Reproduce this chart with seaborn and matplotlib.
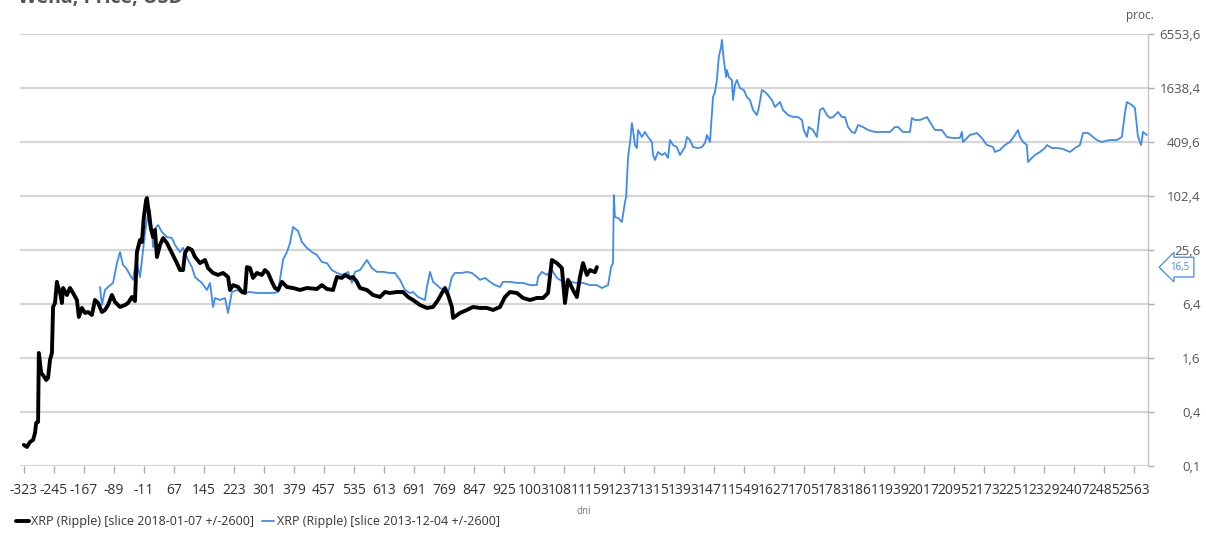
import numpy as np
import pandas as pd
import seaborn as sns
import matplotlib.pyplot as plt
from matplotlib.ticker import FixedLocator, FuncFormatter, NullLocator

# XRP price relative to slice date (percent), days from slice
black_days = [-323, -315, -307, -299, -294, -291, -286, -284, -278, -273,
              -265, -260, -255, -250, -247, -242, -237, -234, -229, -224,
              -221, -211, -203, -195, -185, -180, -172, -164, -156, -146,
              -138, -130, -120, -112, -104, -94, -86, -73, -60, -52,
              -42, -34, -29, -21, -16, -11, -5, -3, 2, 7,
              13, 18, 23, 31, 39, 49, 62, 75, 83, 91,
              96, 104, 114, 122, 135, 148, 156, 169, 182, 195,
              208, 213, 221, 234, 244, 252, 257, 265, 273, 283,
              296, 304, 312, 322, 330, 338, 348, 361, 377, 395,
              413, 439, 452, 465, 481, 491, 504, 512, 525, 533,
              543, 551, 569, 585, 603, 616, 629, 647, 663, 676,
              689, 707, 725, 741, 754, 764, 772, 780, 790, 793,
              811, 829, 845, 863, 881, 897, 915, 928, 941, 959,
              975, 993, 1011, 1027, 1040, 1050, 1063, 1076, 1084, 1092,
              1105, 1115, 1123, 1131, 1141, 1149, 1162, 1167]
black_vals = [0.172, 0.163, 0.185, 0.195, 0.233, 0.302, 0.310, 1.82, 1.09, 1.03,
              0.91, 0.96, 1.52, 1.82, 5.93, 6.57, 11.3, 9.91, 8.71, 6.57,
              9.65, 8.06, 9.65, 8.49, 7.09, 4.59, 5.78, 5.08, 5.21, 4.83,
              7.09, 6.57, 5.21, 5.49, 6.24, 8.06, 6.74, 5.93, 6.24, 6.57,
              7.66, 6.91, 24.3, 33.1, 31.4, 59.7, 92.4, 97.3, 66.2, 45.0,
              35.7, 42.8, 21.4, 29.1, 34.8, 30.6, 23.7, 18.3, 15.3, 15.3,
              23.7, 27.0, 25.6, 21.4, 18.3, 19.8, 16.1, 14.2, 13.5, 14.2,
              12.8, 9.17, 10.4, 9.91, 8.71, 8.49, 16.5, 16.1, 12.5, 14.2,
              13.5, 15.3, 14.2, 11.3, 9.65, 9.17, 11.3, 9.91, 9.65, 9.17,
              9.65, 9.41, 10.4, 9.41, 9.17, 12.8, 12.5, 13.5, 12.5, 12.8,
              11.3, 9.65, 9.17, 8.06, 7.66, 8.71, 8.49, 8.71, 8.71, 7.66,
              7.09, 6.24, 5.78, 5.93, 7.09, 8.49, 9.65, 8.06, 5.93, 4.47,
              5.08, 5.49, 5.93, 5.78, 5.78, 5.49, 5.93, 7.66, 8.71, 8.49,
              7.47, 7.09, 7.47, 7.47, 8.49, 19.8, 18.3, 16.1, 6.57, 11.9,
              9.17, 7.66, 12.8, 18.3, 13.5, 15.3, 14.5, 16.5]

blue_days = [-125, -120, -112, -104, -91, -81, -73, -65, -57, -47,
             -39, -31, -21, -13, -8, 0, 5, 10, 13, 21,
             26, 36, 49, 62, 70, 83, 91, 104, 114, 122,
             130, 140, 153, 161, 169, 174, 187, 200, 208, 218,
             231, 247, 265, 283, 299, 325, 338, 351, 361, 369,
             377, 390, 400, 413, 426, 439, 452, 465, 478, 491,
             507, 520, 530, 538, 551, 569, 582, 595, 611, 629,
             642, 655, 668, 681, 689, 702, 720, 725, 733, 741,
             751, 759, 772, 780, 790, 798, 816, 829, 842, 855,
             863, 876, 889, 902, 915, 923, 941, 959, 975, 993,
             1011, 1014, 1024, 1037, 1050, 1063, 1079, 1097, 1115, 1131,
             1149, 1167, 1180, 1196, 1204, 1209, 1211, 1214, 1222, 1232,
             1240, 1243, 1248, 1253, 1258, 1261, 1266, 1271, 1274, 1284,
             1292, 1300, 1310, 1313, 1318, 1326, 1336, 1344, 1352, 1357,
             1365, 1375, 1383, 1396, 1401, 1409, 1417, 1430, 1440, 1448,
             1453, 1461, 1469, 1474, 1479, 1484, 1490, 1492, 1497, 1503,
             1505, 1510, 1518, 1521, 1526, 1531, 1539, 1549, 1557, 1565,
             1573, 1583, 1588, 1596, 1604, 1612, 1622, 1630, 1643, 1651,
             1664, 1677, 1690, 1700, 1705, 1713, 1718, 1729, 1739, 1747,
             1755, 1765, 1773, 1781, 1794, 1804, 1812, 1820, 1830, 1838,
             1846, 1859, 1872, 1890, 1911, 1929, 1942, 1950, 1963, 1981,
             1986, 1994, 2007, 2025, 2033, 2046, 2064, 2077, 2093, 2111,
             2116, 2119, 2137, 2155, 2168, 2181, 2197, 2202, 2215, 2228,
             2241, 2254, 2262, 2267, 2275, 2285, 2288, 2298, 2306, 2319,
             2332, 2337, 2350, 2366, 2379, 2397, 2410, 2423, 2431, 2444,
             2457, 2467, 2480, 2501, 2519, 2532, 2540, 2545, 2558, 2566,
             2574, 2582, 2587, 2597]
blue_vals = [9.91, 6.24, 9.17, 9.91, 11.0, 18.3, 24.3, 17.4, 16.1, 13.5,
             11.9, 19.8, 12.8, 25.6, 39.6, 66.2, 71.5, 42.8, 27.6, 46.2,
             48.6, 40.6, 35.7, 34.8, 29.1, 24.3, 27.0, 19.8, 16.5, 12.8,
             11.9, 11.0, 9.17, 11.0, 5.93, 7.47, 7.09, 7.47, 5.08, 8.71,
             9.17, 8.49, 8.71, 8.49, 8.49, 8.49, 8.71, 20.0, 24.3, 30.6,
             46.2, 41.7, 31.4, 27.0, 24.3, 22.5, 18.8, 18.3, 15.3, 14.2,
             13.5, 14.6, 11.0, 14.6, 15.3, 19.8, 16.1, 14.6, 14.6, 14.2,
             14.2, 11.9, 9.17, 8.49, 8.71, 7.66, 7.09, 9.91, 14.6, 11.3,
             10.4, 9.65, 9.17, 8.49, 12.8, 14.2, 14.2, 14.6, 14.2, 12.8,
             11.9, 12.5, 11.3, 10.4, 9.91, 11.3, 11.3, 11.0, 11.0, 10.4,
             10.4, 12.8, 14.6, 13.5, 15.3, 12.5, 11.3, 11.3, 11.0, 11.0,
             10.4, 10.4, 9.65, 10.4, 16.5, 18.3, 105, 59.7, 58.2, 52.5,
             87.8, 99.8, 279, 399, 667, 557, 379, 351, 557, 466,
             530, 466, 410, 293, 258, 317, 293, 309, 272, 431,
             379, 360, 293, 360, 466, 431, 360, 351, 360, 399,
             490, 410, 1300, 1479, 2012, 3631, 4696, 5620, 3362, 2173,
             2600, 2173, 2012, 1204, 1769, 2012, 1638, 1557, 1300, 1204,
             931, 819, 981, 1557, 1479, 1369, 1204, 1006, 1144, 931,
             819, 778, 778, 721, 557, 466, 602, 557, 466, 931,
             981, 819, 759, 778, 885, 778, 778, 602, 530, 516,
             634, 602, 557, 530, 530, 530, 602, 602, 530, 530,
             759, 721, 721, 778, 684, 557, 557, 466, 454, 454,
             530, 410, 490, 516, 454, 379, 360, 317, 334, 379,
             410, 490, 557, 466, 410, 379, 245, 272, 293, 317,
             351, 379, 351, 351, 342, 317, 351, 379, 516, 516,
             466, 431, 410, 431, 431, 466, 863, 1144, 1059, 981,
             466, 379, 530, 490]

black_label = "XRP (Ripple) [slice 2018-01-07 +/-2600]"
blue_label = "XRP (Ripple) [slice 2013-12-04 +/-2600]"
y_ticks = [0.1, 0.4, 1.6, 6.4, 25.6, 102.4, 409.6, 1638.4, 6553.6]
x_ticks = list(range(-323, 2564, 78))
last_value = black_vals[-1]

df_black = pd.DataFrame({"dni": black_days, "proc": black_vals})
df_blue = pd.DataFrame({"dni": blue_days, "proc": blue_vals})

sns.set_theme(style="white")
plt.rcParams["font.family"] = ["Open Sans", "DejaVu Sans"]

blue = "#3d8af7"
grid_col = "#d6d6d6"

fig, ax = plt.subplots(figsize=(12.06, 5.36), dpi=100)
fig.subplots_adjust(left=20/1206, right=1148/1206, top=1-34/536, bottom=1-466/536)

sns.lineplot(data=df_blue, x="dni", y="proc", color=blue, linewidth=1.3,
             estimator=None, sort=False, ax=ax, label=blue_label)
sns.lineplot(data=df_black, x="dni", y="proc", color="black", linewidth=2.8,
             estimator=None, sort=False, ax=ax, label=black_label)

ax.set_yscale("log", base=4)
ax.set_ylim(0.1, 6553.6)
ax.set_xlim(-333, 2600)
ax.yaxis.set_major_locator(FixedLocator(y_ticks))
ax.yaxis.set_minor_locator(NullLocator())
ax.yaxis.set_major_formatter(FuncFormatter(lambda v, p: f"{v:.1f}".replace(".", ",")))
ax.set_xticks(x_ticks)
ax.set_xticklabels([str(t) for t in x_ticks])

ax.grid(axis="y", color=grid_col, linewidth=1.6)
ax.grid(axis="x", visible=False)
ax.set_axisbelow(True)

for s in ["left", "top", "bottom"]:
    ax.spines[s].set_visible(False)
ax.spines["right"].set_color("#c4c4c4")
ax.spines["right"].set_linewidth(1.0)

ax.yaxis.tick_right()
ax.tick_params(axis="y", which="major", right=True, left=False, length=4, width=1,
               color="#aaaaaa", labelsize=9.5, labelcolor="#555555", pad=34)
for lbl in ax.get_yticklabels():
    lbl.set_horizontalalignment("right")
ax.tick_params(axis="x", which="major", bottom=True, length=5, width=1,
               color="#aaaaaa", labelsize=10, labelcolor="#333333", pad=7)

ax.set_ylabel("")
ax.set_xlabel("dni", fontsize=7, color="#777777", labelpad=6)

ax.get_legend().remove()
h, l = ax.get_legend_handles_labels()
leg = fig.legend(h[::-1], l[::-1], loc="lower left", bbox_to_anchor=(0.004, -0.006),
                 ncol=2, frameon=False, fontsize=9, handlelength=1.0,
                 handletextpad=0.2, columnspacing=0.6, labelcolor="#333333")

fig.text(1140/1206, 1-15/536, "proc.", ha="center", va="center", fontsize=8.5, color="#555555")
# title sits mostly above the top edge, as in the source screenshot
fig.text(18/1206, 1-3/536, "Wena, Price, USD", ha="left", va="baseline", fontsize=14,
         fontweight="bold", color="#555555")

ax.annotate(f"{last_value:.1f}".replace(".", ","), xy=(1.0, last_value),
            xycoords=("axes fraction", "data"), xytext=(16, 0), textcoords="offset points",
            ha="left", va="center", fontsize=7, color=blue,
            bbox=dict(boxstyle="larrow,pad=0.45", fc="white", ec=blue, lw=0.9))

fig.savefig("out.png", dpi=100)
